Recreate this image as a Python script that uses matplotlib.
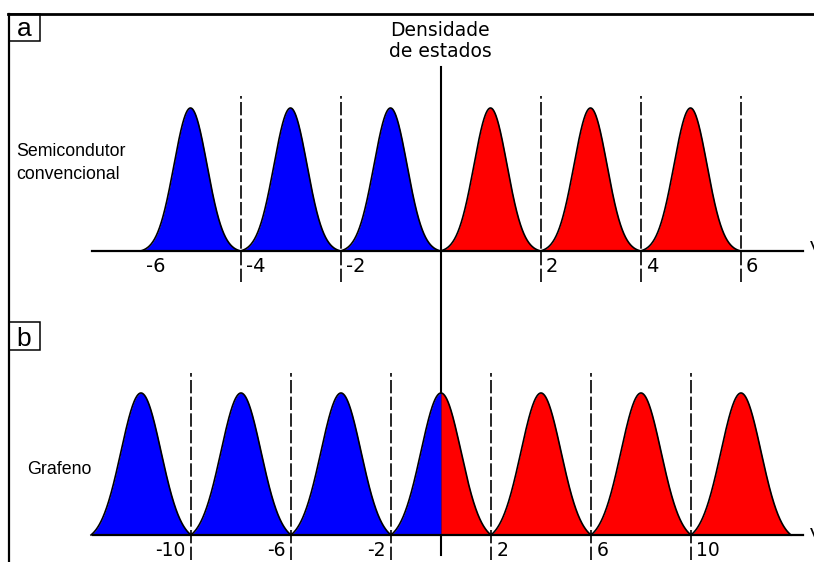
import numpy as np
import matplotlib.pyplot as plt
from matplotlib.patches import Rectangle
from matplotlib.lines import Line2D

# painel a: semicondutor convencional
picos_a_val = [-5, -3, -1]      # estados ocupados (azul)
picos_a_cond = [1, 3, 5]        # estados vazios (vermelho)
tracos_a = [-4, -2, 2, 4, 6]
rotulos_a = [-6, -4, -2, 2, 4, 6]

# painel b: grafeno
picos_b_val = [-12, -8, -4]
picos_b_cond = [4, 8, 12]
pico_b_zero = 0
tracos_b = [-10, -6, -2, 2, 6, 10]
rotulos_b = [-10, -6, -2, 2, 6, 10]

AZUL = "#0000ff"
VERM = "#ff0000"
W, H = 814, 562

fig = plt.figure(figsize=(W / 100, H / 100), dpi=100)


def fx(p):
    return p / W


def fy(r):
    return 1 - r / H


def pico(c, meia, s, lado=None):
    # gaussiana truncada que vai a zero nas bordas do intervalo
    x0, x1 = c - meia, c + meia
    if lado == "esq":
        x1 = c
    elif lado == "dir":
        x0 = c
    x = np.linspace(x0, x1, 300)
    d = (x - c) / meia
    e1 = np.exp(-1 / (2 * s ** 2))
    y = (np.exp(-d ** 2 / (2 * s ** 2)) - e1) / (1 - e1)
    return x, y


def desenha(ax, c, meia, s, cor, lado=None):
    x, y = pico(c, meia, s, lado)
    ax.fill_between(x, 0, y, color=cor, lw=0, zorder=2)
    ax.plot(x, y, color="black", lw=1.2, zorder=3)


# eixos que cobrem a figura inteira, um para cada painel
ax_a = fig.add_axes([0, 0, 1, 1])
ax_a.set_xlim(-440.5 / 50, (W - 440.5) / 50)
ax_a.set_ylim((251 - H) / 143, 251 / 143)
ax_a.axis("off")

ax_b = fig.add_axes([0, 0, 1, 1])
ax_b.set_xlim(-441 / 25, (W - 441) / 25)
ax_b.set_ylim((535 - H) / 142, 535 / 142)
ax_b.axis("off")

# ---- painel a
for c in picos_a_val:
    desenha(ax_a, c, 1, 0.33, AZUL)
for c in picos_a_cond:
    desenha(ax_a, c, 1, 0.33, VERM)
ax_a.plot([-6.97, 7.25], [0, 0], color="black", lw=1.6, zorder=4)
for t in tracos_a:
    ax_a.plot([t, t], [-0.217, 1.084], color="black", lw=1.2, ls=(0, (8, 2)), zorder=5)
for v in rotulos_a:
    ax_a.text(v + 0.11, -0.04, str(v), ha="left", va="top", fontsize=14,
              family="DejaVu Sans")
# linha central que atravessa os dois paineis
ax_a.plot([0, 0], [1.287, -2.126], color="black", lw=1.5, zorder=6, clip_on=False)

# ---- painel b
for c in picos_b_val:
    desenha(ax_b, c, 2, 0.4, AZUL)
for c in picos_b_cond:
    desenha(ax_b, c, 2, 0.4, VERM)
desenha(ax_b, pico_b_zero, 2, 0.4, AZUL, "esq")
desenha(ax_b, pico_b_zero, 2, 0.4, VERM, "dir")
ax_b.plot([-13.92, 14.5], [0, 0], color="black", lw=1.6, zorder=4)
for t in tracos_b:
    ax_b.plot([t, t], [-0.176, 1.141], color="black", lw=1.2, ls=(0, (8, 2)), zorder=5)
for v in rotulos_b:
    if v < 0:
        ax_b.text(v - 0.22, -0.045, str(v), ha="right", va="top", fontsize=13.5,
                  family="DejaVu Sans")
    else:
        ax_b.text(v + 0.22, -0.045, str(v), ha="left", va="top", fontsize=13.5,
                  family="DejaVu Sans")

# ---- moldura e textos
fig.add_artist(Line2D([fx(8), 1], [fy(14), fy(14)], color="black", lw=2.0,
                      transform=fig.transFigure))
fig.add_artist(Line2D([fx(9), fx(9)], [fy(14), 0], color="black", lw=1.6,
                      transform=fig.transFigure))
for y0, y1, letra, base in [(14, 40.5, "a", 36), (322, 350, "b", 346.5)]:
    fig.add_artist(Rectangle((fx(9), fy(y1)), fx(39.5) - fx(9), fy(y0) - fy(y1),
                             fill=False, lw=1.1, ec="black", transform=fig.transFigure))
    fig.text(fx(24), fy(base), letra, ha="center", va="baseline", fontsize=19,
             family="Liberation Sans")

fig.text(fx(440), fy(36), "Densidade", ha="center", va="baseline", fontsize=13.5,
         family="DejaVu Sans")
fig.text(fx(440), fy(57), "de estados", ha="center", va="baseline", fontsize=13.5,
         family="DejaVu Sans")
fig.text(fx(16), fy(156), "Semicondutor", ha="left", va="baseline", fontsize=12.8,
         family="Liberation Sans")
fig.text(fx(16), fy(179), "convencional", ha="left", va="baseline", fontsize=12.8,
         family="Liberation Sans")
fig.text(fx(27), fy(474), "Grafeno", ha="left", va="baseline", fontsize=12.8,
         family="Liberation Sans")
fig.text(fx(810), fy(241), "V", ha="left", va="top", fontsize=14, family="Liberation Sans")
fig.text(fx(810), fy(528), "V", ha="left", va="top", fontsize=14, family="Liberation Sans")

fig.savefig("out.png", dpi=100)
